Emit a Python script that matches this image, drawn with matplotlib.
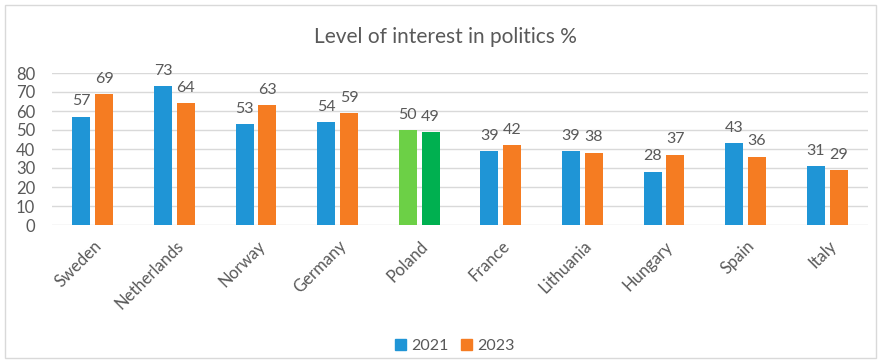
import numpy as np
import matplotlib.pyplot as plt
from matplotlib.patches import Rectangle
from matplotlib.transforms import ScaledTranslation

countries = ['Sweden', 'Netherlands', 'Norway', 'Germany', 'Poland',
             'France', 'Lithuania', 'Hungary', 'Spain', 'Italy']
y2021 = [57, 73, 53, 54, 50, 39, 39, 28, 43, 31]
y2023 = [69, 64, 63, 59, 49, 42, 38, 37, 36, 29]

blue = '#1f95d6'
orange = '#f57c22'
text_col = '#595959'

plt.rcParams['font.family'] = ['Lato', 'DejaVu Sans']

fig = plt.figure(figsize=(8.83, 3.63), dpi=100)
ax = fig.add_axes([52 / 883, 1 - 225 / 363, 816 / 883, 152 / 363])

x = np.arange(len(countries))
w = 0.22
gap = 0.03
c21 = [blue] * len(countries)
c23 = [orange] * len(countries)
# Poland is highlighted in green
c21[countries.index('Poland')] = '#6cd046'
c23[countries.index('Poland')] = '#00b050'

b1 = ax.bar(x - w / 2 - gap, y2021, w, color=c21, label='2021', zorder=3)
b2 = ax.bar(x + w / 2 + gap, y2023, w, color=c23, label='2023', zorder=3)

for bars, vals in ((b1, y2021), (b2, y2023)):
    for rect, v in zip(bars, vals):
        ax.annotate(str(v), (rect.get_x() + rect.get_width() / 2, v),
                    xytext=(0, 6), textcoords='offset points',
                    ha='center', va='bottom', fontsize=11.5, color=text_col)

ax.set_xlim(-0.5, len(countries) - 0.5)
ax.set_ylim(0, 80)
ax.set_yticks(range(0, 81, 10))
ax.grid(axis='y', color='#d9d9d9', linewidth=1, zorder=0)
for s in ax.spines.values():
    s.set_visible(False)
ax.tick_params(axis='both', length=0, labelsize=12, colors=text_col)
ax.tick_params(axis='y', pad=12)
ax.set_xticks(x)
ax.set_xticklabels(countries, rotation=45, ha='right', rotation_mode='anchor')
shift = ScaledTranslation(1 / 100, -8 / 100, fig.dpi_scale_trans)
for lbl in ax.get_xticklabels():
    lbl.set_transform(lbl.get_transform() + shift)

fig.text(0.505, 1 - 37 / 363, 'Level of interest in politics %', ha='center',
         va='center', fontsize=15, color=text_col)

handles = [Rectangle((0, 0), 1, 1, color=blue), Rectangle((0, 0), 1, 1, color=orange)]
fig.legend(handles, ['2021', '2023'], loc='center', bbox_to_anchor=(0.515, 1 - 346 / 363),
           ncol=2, frameon=False, fontsize=11.5, handlelength=0.7, handleheight=0.7,
           handletextpad=0.3, columnspacing=0.8, labelcolor=text_col)

fig.patches.append(Rectangle((5 / 883, 5 / 363), 871 / 883, 353 / 363, transform=fig.transFigure,
                             fill=False, edgecolor='#d9d9d9', linewidth=1))

fig.savefig('out.png', dpi=100)
